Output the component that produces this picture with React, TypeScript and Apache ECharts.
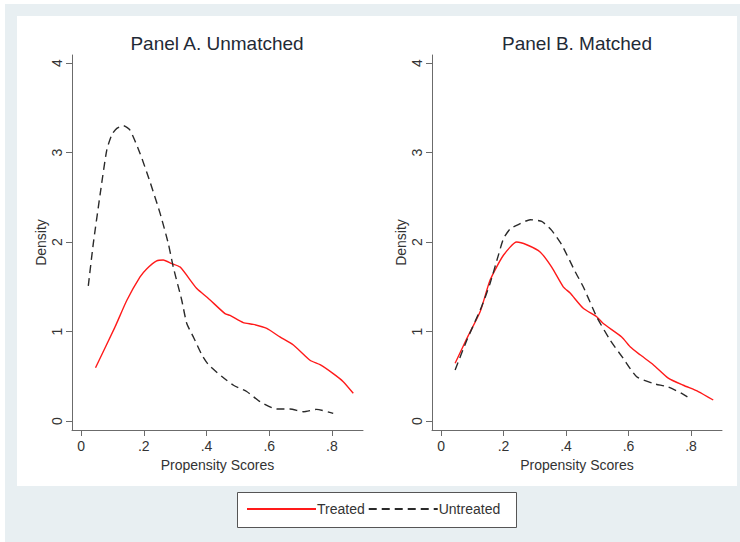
import React, { useEffect, useRef } from "react";
import * as echarts from "echarts";

const xTicks = [0, 0.2, 0.4, 0.6, 0.8];
const yTicks = [0, 1, 2, 3, 4];
const panelTitles = ["Panel A. Unmatched", "Panel B. Matched"];
const seriesNames = ["Treated", "Untreated"];

const aTreatedX = [0.046, 0.108, 0.146, 0.188, 0.209, 0.241, 0.262, 0.289, 0.316, 0.369, 0.406, 0.459, 0.475, 0.517, 0.549, 0.592, 0.634, 0.677, 0.73, 0.762, 0.804, 0.836, 0.868];
const aTreatedY = [0.596, 1.05, 1.35, 1.61, 1.7, 1.79, 1.8, 1.76, 1.72, 1.48, 1.37, 1.2, 1.18, 1.1, 1.08, 1.035, 0.94, 0.85, 0.68, 0.63, 0.53, 0.44, 0.31];
const aUntreatedX = [0.023, 0.039, 0.061, 0.082, 0.098, 0.114, 0.135, 0.156, 0.188, 0.22, 0.252, 0.278, 0.294, 0.321, 0.337, 0.358, 0.385, 0.406, 0.448, 0.486, 0.528, 0.571, 0.624, 0.666, 0.709, 0.751, 0.804];
const aUntreatedY = [1.51, 1.985, 2.54, 3.03, 3.2, 3.27, 3.3, 3.25, 2.99, 2.67, 2.32, 1.985, 1.72, 1.35, 1.09, 0.94, 0.74, 0.63, 0.5, 0.4, 0.33, 0.216, 0.134, 0.134, 0.104, 0.13, 0.085];
const bTreatedX = [0.045, 0.082, 0.125, 0.157, 0.199, 0.242, 0.274, 0.317, 0.354, 0.391, 0.413, 0.455, 0.498, 0.519, 0.578, 0.605, 0.637, 0.679, 0.727, 0.775, 0.823, 0.871];
const bTreatedY = [0.645, 0.92, 1.22, 1.575, 1.85, 2.0, 1.97, 1.89, 1.72, 1.5, 1.43, 1.26, 1.165, 1.09, 0.94, 0.83, 0.74, 0.63, 0.48, 0.4, 0.33, 0.235];
const bUntreatedX = [0.045, 0.082, 0.13, 0.157, 0.184, 0.2, 0.222, 0.25, 0.285, 0.322, 0.354, 0.386, 0.429, 0.455, 0.498, 0.541, 0.583, 0.626, 0.679, 0.727, 0.77, 0.802];
const bUntreatedY = [0.57, 0.9, 1.28, 1.54, 1.86, 2.04, 2.15, 2.2, 2.25, 2.23, 2.13, 1.97, 1.67, 1.5, 1.165, 0.905, 0.7, 0.495, 0.42, 0.38, 0.31, 0.24];

const pair = (xs: number[], ys: number[]) => xs.map((x, i) => [x, ys[i]]);

const FONT = "'Liberation Sans', Arial, sans-serif";
const AXIS_COLOR = "#6b6b6b";
const TEXT_COLOR = "#333";

export default function App() {
  const ref = useRef<HTMLDivElement>(null);
  useEffect(() => {
    if (!ref.current) return;
    const chart = echarts.init(ref.current, null, { renderer: "svg" });
    const grids = [
      { left: 72, top: 55, width: 291, height: 375 },
      { left: 432, top: 55, width: 290, height: 375 },
    ];
    const xAxes = grids.map((_, i) => ({
      type: "value",
      gridIndex: i,
      min: -0.029,
      max: 0.899,
      name: "Propensity Scores",
      nameLocation: "middle",
      nameGap: 24,
      nameTextStyle: { fontSize: 14, color: TEXT_COLOR, fontFamily: FONT },
      axisLine: { show: true, onZero: false, lineStyle: { color: AXIS_COLOR, width: 1 } },
      axisTick: { show: true, length: 6, customValues: xTicks, lineStyle: { color: AXIS_COLOR } },
      axisLabel: {
        customValues: xTicks,
        margin: 9,
        fontSize: 14,
        color: TEXT_COLOR,
        fontFamily: FONT,
        formatter: (v: number) => (v === 0 ? "0" : String(+v.toFixed(2)).replace(/^0/, "")),
      },
      splitLine: { show: false },
    }));
    const yAxes = grids.map((_, i) => ({
      type: "value",
      gridIndex: i,
      min: -0.1,
      max: 4.09,
      name: "Density",
      nameLocation: "middle",
      nameGap: 24,
      nameTextStyle: { fontSize: 14, color: TEXT_COLOR, fontFamily: FONT },
      axisLine: { show: true, onZero: false, lineStyle: { color: AXIS_COLOR, width: 1 } },
      axisTick: { show: true, length: 6, customValues: yTicks, lineStyle: { color: AXIS_COLOR } },
      axisLabel: {
        customValues: yTicks,
        rotate: 90,
        margin: 8,
        fontSize: 14,
        color: TEXT_COLOR,
        fontFamily: FONT,
      },
      splitLine: { show: false },
    }));
    const redStyle = { color: "#ff1a1a", width: 1.4 };
    const dashStyle = { color: "#2a2a2a", width: 1.4, type: [8, 5] };
    const mk = (name: string, idx: number, data: number[][], style: any) => ({
      type: "line",
      name,
      xAxisIndex: idx,
      yAxisIndex: idx,
      data,
      showSymbol: false,
      symbol: "none",
      smooth: 0.2,
      lineStyle: style,
      itemStyle: { color: style.color },
    });
    chart.setOption({
      animation: false,
      backgroundColor: "#ffffff",
      textStyle: { fontFamily: FONT },
      graphic: [
        { type: "rect", z: -10, shape: { x: 5, y: 4, width: 735, height: 538 }, style: { fill: "#e8eff2" }, silent: true },
        { type: "rect", z: -9, shape: { x: 17, y: 16, width: 720, height: 470 }, style: { fill: "#ffffff" }, silent: true },
        { type: "rect", z: -8, shape: { x: 237.5, y: 492.5, width: 279, height: 35 }, style: { fill: "#ffffff", stroke: "#555", lineWidth: 1 }, silent: true },
        { type: "text", x: 217, y: 43, style: { text: panelTitles[0], fontSize: 19, fill: "#1f2a36", fontFamily: FONT, textAlign: "center", textVerticalAlign: "middle" } },
        { type: "text", x: 577, y: 43, style: { text: panelTitles[1], fontSize: 19, fill: "#1f2a36", fontFamily: FONT, textAlign: "center", textVerticalAlign: "middle" } },
      ],
      legend: {
        data: seriesNames,
        left: 246,
        top: 502,
        itemWidth: 69,
        itemHeight: 14,
        itemGap: 3,
        padding: 0,
        itemStyle: { opacity: 0, borderWidth: 0 },
        textStyle: { fontSize: 14, color: TEXT_COLOR, fontFamily: FONT, padding: [0, 0, 0, -4] },
      },
      grid: grids,
      xAxis: xAxes,
      yAxis: yAxes,
      series: [
        mk(seriesNames[0], 0, pair(aTreatedX, aTreatedY), redStyle),
        mk(seriesNames[1], 0, pair(aUntreatedX, aUntreatedY), dashStyle),
        mk(seriesNames[0], 1, pair(bTreatedX, bTreatedY), redStyle),
        mk(seriesNames[1], 1, pair(bUntreatedX, bUntreatedY), dashStyle),
      ],
    });
    return () => chart.dispose();
  }, []);
  return <div ref={ref} style={{ position: "fixed", left: 0, top: 0, width: 740, height: 542 }} />;
}
